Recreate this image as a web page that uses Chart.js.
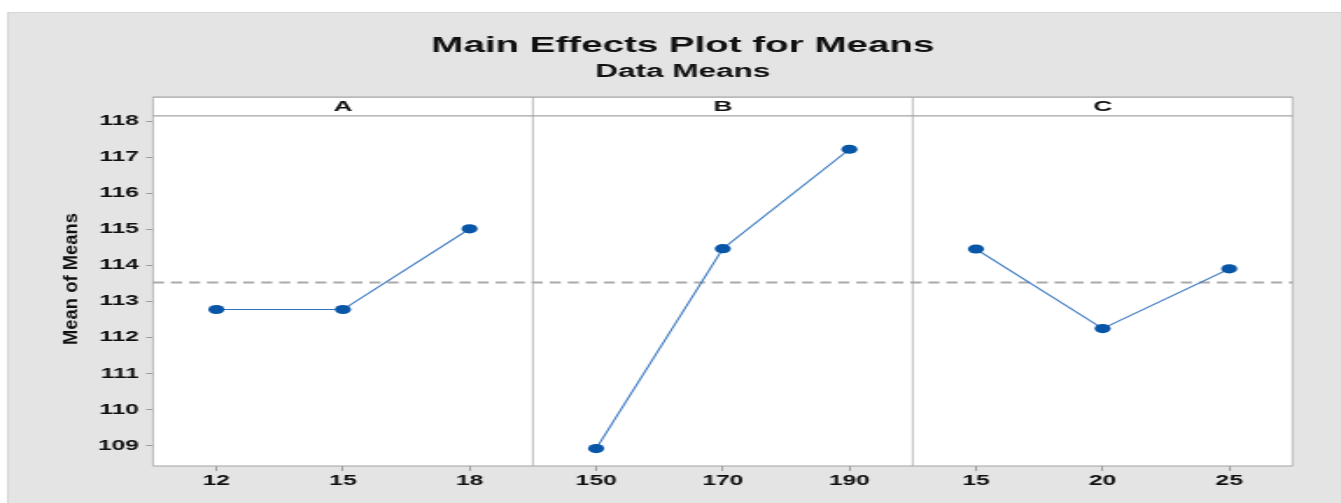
<!DOCTYPE html>
<html>
<head>
<meta charset="utf-8">
<script src="https://cdn.jsdelivr.net/npm/chart.js@4.4.1/dist/chart.umd.min.js"></script>
<style>
  html, body { margin: 0; padding: 0; background: #fff; overflow: hidden; }
  #wrap { width: 1341px; height: 503px; }
  #chart { transform: scaleX(1.7507); transform-origin: 0 0; }
</style>
</head>
<body>
<div id="wrap"><canvas id="chart" width="766" height="503"></canvas></div>
<script>
// data
const factors = ["A", "B", "C"];
const levelsA = ["12", "15", "18"];
const levelsB = ["150", "170", "190"];
const levelsC = ["15", "20", "25"];
const meansA = [112.78, 112.78, 115.02];
const meansB = [108.92, 114.47, 117.23];
const meansC = [114.46, 112.25, 113.91];
const yTicks = [109, 110, 111, 112, 113, 114, 115, 116, 117, 118];
const grandMean = 113.53;
const yTitle = "Mean of Means";

const FONT = '"Liberation Sans", Arial, sans-serif';
const means = [meansA, meansB, meansC];
const xLabels = [].concat(levelsA, levelsB, levelsC);
const xPositions = xLabels.map((l, i) => i + 0.5);

const datasets = means.map((m, p) => ({
  label: factors[p],
  data: m.map((v, j) => ({ x: p * 3 + j + 0.5, y: v })),
  borderColor: "#3474c0",
  borderWidth: 1.1,
  backgroundColor: "#0856a8",
  pointBackgroundColor: "#0856a8",
  pointBorderWidth: 0,
  pointRadius: 4.6,
  tension: 0
}));

const panelPlugin = {
  id: "panels",
  beforeDraw(chart) {
    const { ctx, chartArea: a } = chart;
    ctx.save();
    ctx.fillStyle = "#ffffff";
    ctx.fillRect(0, 0, chart.width, chart.height);
    ctx.fillStyle = "#e4e4e4";
    ctx.fillRect(4, 12, chart.width, chart.height);
    ctx.strokeStyle = "#d6d6d6";
    ctx.lineWidth = 1;
    ctx.strokeRect(4.5, 12.5, chart.width, chart.height);
    ctx.fillStyle = "#ffffff";
    ctx.fillRect(a.left, a.top - 18.7, a.right - a.left, a.bottom - a.top + 18.7);
    ctx.restore();
  },
  beforeDatasetsDraw(chart) {
    const { ctx, chartArea: a, scales } = chart;
    const top = a.top - 18.7;
    ctx.save();
    // grand mean reference line
    const ym = scales.y.getPixelForValue(grandMean);
    ctx.strokeStyle = "#a9a9a9";
    ctx.lineWidth = 2;
    ctx.setLineDash([6.3, 4]);
    ctx.beginPath();
    ctx.moveTo(a.left, ym);
    ctx.lineTo(a.right, ym);
    ctx.stroke();
    ctx.setLineDash([]);
    // horizontal frame lines
    ctx.strokeStyle = "#a4a4a4";
    ctx.lineWidth = 1.2;
    ctx.beginPath();
    [top, a.top, a.bottom].forEach(y => {
      ctx.moveTo(a.left, y);
      ctx.lineTo(a.right, y);
    });
    ctx.stroke();
    // vertical frame lines and panel dividers (thin, canvas is stretched)
    ctx.lineWidth = 0.75;
    ctx.beginPath();
    [0, 3, 6, 9].forEach(v => {
      const x = scales.x.getPixelForValue(v);
      ctx.moveTo(x, top);
      ctx.lineTo(x, a.bottom);
    });
    ctx.stroke();
    // panel headers
    ctx.fillStyle = "#111";
    ctx.font = "bold 15px " + FONT;
    ctx.textAlign = "center";
    ctx.textBaseline = "middle";
    factors.forEach((f, p) => {
      const x = scales.x.getPixelForValue(p * 3 + 1.5);
      ctx.fillText(f, x, (top + a.top) / 2 + 0.5);
    });
    // y axis title
    ctx.translate(41, 279);
    ctx.rotate(-Math.PI / 2);
    ctx.font = "bold 10.5px " + FONT;
    const w = ctx.measureText(yTitle).width;
    ctx.scale(132 / w, 1);
    ctx.fillText(yTitle, 0, 0);
    ctx.restore();
  }
};

new Chart(document.getElementById("chart"), {
  type: "line",
  data: { datasets },
  options: {
    responsive: false,
    devicePixelRatio: 1,
    animation: false,
    layout: { padding: { left: 41.7, right: 27.7, top: 0, bottom: 0 } },
    plugins: {
      legend: { display: false },
      tooltip: { enabled: false },
      title: {
        display: true,
        text: "Main Effects Plot for Means",
        color: "#111",
        font: { family: FONT, size: 22, weight: "bold", lineHeight: 0.8 },
        padding: { top: 37.4, bottom: 0 }
      },
      subtitle: {
        display: true,
        text: "Data Means",
        color: "#111",
        font: { family: FONT, size: 18, weight: "bold", lineHeight: 0.8 },
        padding: { top: 10.3, bottom: 36.1 }
      }
    },
    scales: {
      x: {
        type: "linear",
        min: 0,
        max: 9,
        afterBuildTicks: s => { s.ticks = xPositions.map(v => ({ value: v })); },
        afterFit: s => { s.height = 37; },
        grid: { drawOnChartArea: false, drawTicks: true, tickLength: 5, color: "#9c9c9c" },
        border: { display: false },
        ticks: {
          autoSkip: false,
          maxRotation: 0,
          padding: 2,
          color: "#111",
          font: { family: FONT, size: 14, weight: "bold" },
          callback: (v, i) => xLabels[i]
        }
      },
      y: {
        min: 108.436,
        max: 118.158,
        afterBuildTicks: s => { s.ticks = yTicks.map(v => ({ value: v })); },
        afterFit: s => { s.width = 45.7; },
        grid: { drawOnChartArea: false, drawTicks: true, tickLength: 4, color: "#9c9c9c" },
        border: { display: false },
        ticks: {
          padding: 4,
          color: "#111",
          font: { family: FONT, size: 14, weight: "bold" }
        }
      }
    }
  },
  plugins: [panelPlugin]
});
</script>
</body>
</html>
